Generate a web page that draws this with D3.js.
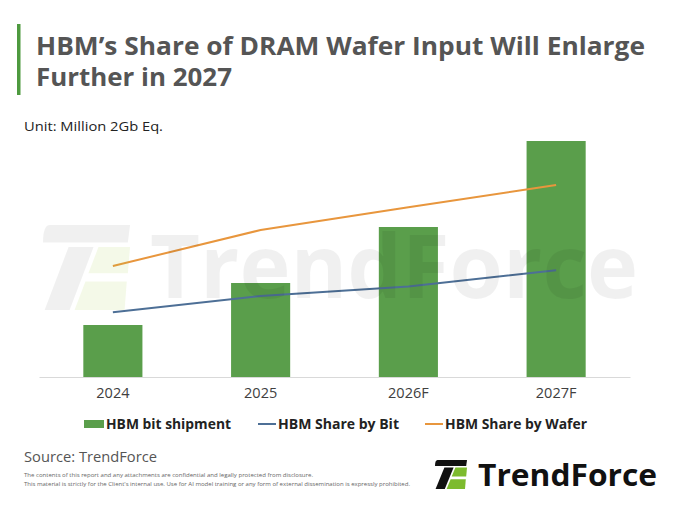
<!DOCTYPE html>
<html>
<head>
<meta charset="utf-8">
<script src="https://cdn.jsdelivr.net/npm/d3@7"></script>
<style>
  body { margin: 0; background: #fff; }
  text { font-family: "Open Sans", "DejaVu Sans", sans-serif; }
</style>
</head>
<body>
<div id="chart"></div>
<script>
// chart data
var years = ["2024", "2025", "2026F", "2027F"];
var bitShipment = [5.2, 9.4, 15.0, 23.6];       // Million 2Gb Eq.
var shareByBit = [10.8, 13.5, 15.1, 17.8];      // %
var shareByWafer = [18.5, 24.5, 28.3, 32.0];    // %
var legendLabels = ["HBM bit shipment", "HBM Share by Bit", "HBM Share by Wafer"];

var svgWidth = 680;
var svgHeight = 510;

var colors = {
  bar: "#5a9e4b",
  bit: "#4d6f96",
  wafer: "#e8963d"
};

var svg = d3.select("#chart")
  .append("svg")
  .attr("width", svgWidth)
  .attr("height", svgHeight);

// title block
svg.append("rect")
  .attr("x", 17).attr("y", 24)
  .attr("width", 3.5).attr("height", 71)
  .attr("fill", "#4e9a3f");

svg.append("text")
  .attr("x", 36).attr("y", 55)
  .attr("font-size", 25).attr("font-weight", 700)
  .attr("fill", "#555")
  .attr("textLength", 609).attr("lengthAdjust", "spacingAndGlyphs")
  .text("HBM’s Share of DRAM Wafer Input Will Enlarge");

svg.append("text")
  .attr("x", 36).attr("y", 86)
  .attr("font-size", 25).attr("font-weight", 700)
  .attr("fill", "#555")
  .attr("textLength", 196).attr("lengthAdjust", "spacingAndGlyphs")
  .text("Further in 2027");

svg.append("text")
  .attr("x", 24).attr("y", 131)
  .attr("font-size", 13)
  .attr("fill", "#222")
  .attr("textLength", 139).attr("lengthAdjust", "spacingAndGlyphs")
  .text("Unit: Million 2Gb Eq.");

// scales
var plotLeft = 39, plotRight = 630, baseY = 377, topY = 137;

var xScale = d3.scaleBand()
  .domain(years)
  .range([plotLeft, plotRight])
  .paddingInner(0.6)
  .paddingOuter(0.3);

var yBar = d3.scaleLinear().domain([0, 24]).range([baseY, topY]);
var yShare = d3.scaleLinear().domain([0, 40]).range([baseY, topY]);

// bars
var chartGroup = svg.append("g");

chartGroup.selectAll("rect.bar")
  .data(bitShipment)
  .enter()
  .append("rect")
  .attr("class", "bar")
  .attr("x", (d, i) => xScale(years[i]))
  .attr("y", d => yBar(d))
  .attr("width", xScale.bandwidth())
  .attr("height", d => baseY - yBar(d))
  .attr("fill", colors.bar);

// baseline axis
var bottomAxis = d3.axisBottom(xScale).tickSize(0).tickPadding(11);
var axisG = chartGroup.append("g")
  .attr("transform", `translate(0, ${baseY})`)
  .call(bottomAxis);
axisG.select(".domain").attr("stroke", "#d9d9d9").attr("stroke-width", 1);
axisG.selectAll("text")
  .attr("font-size", 14.5)
  .attr("fill", "#404040")
  .style("font-family", "'Open Sans', sans-serif");

// lines
var lineFor = function(vals) {
  return d3.line()
    .x((d, i) => xScale(years[i]) + xScale.bandwidth() / 2)
    .y(d => yShare(d))(vals);
};

chartGroup.append("path")
  .attr("d", lineFor(shareByBit))
  .attr("fill", "none")
  .attr("stroke", colors.bit)
  .attr("stroke-width", 2);

chartGroup.append("path")
  .attr("d", lineFor(shareByWafer))
  .attr("fill", "none")
  .attr("stroke", colors.wafer)
  .attr("stroke-width", 2);

// logo icon helper (unit box 32 x 29)
function drawIcon(g, darkFill, greenFill, darkOp, greenOp) {
  g.append("path")
    .attr("d", "M2.5,0 L32,0 L31.2,6 L0,6 Q0,0 2.5,0 Z")
    .attr("fill", darkFill).attr("fill-opacity", darkOp);
  g.append("path")
    .attr("d", "M9.4,7.5 L18.6,7.5 L9.8,29 L0.6,29 Z")
    .attr("fill", darkFill).attr("fill-opacity", darkOp);
  g.append("path")
    .attr("d", "M20.4,7.5 L32,7.5 L31.2,16.5 L16.7,16.5 Z")
    .attr("fill", greenFill).attr("fill-opacity", greenOp);
  g.append("path")
    .attr("d", "M15.6,19.3 L30.8,19.3 L30,29 L11.6,29 Z")
    .attr("fill", greenFill).attr("fill-opacity", greenOp);
}

// watermark (on top, very faint)
var wm = svg.append("g").attr("pointer-events", "none");
drawIcon(wm.append("g").attr("transform", "translate(43,225) scale(2.72,2.93)"),
  "#000", "#a8cf45", 0.06, 0.12);
wm.append("text")
  .attr("x", 150).attr("y", 298)
  .attr("font-size", 87).attr("font-weight", 700)
  .attr("fill", "#000").attr("fill-opacity", 0.06)
  .attr("textLength", 488).attr("lengthAdjust", "spacingAndGlyphs")
  .text("TrendForce");

// legend
var legend = svg.append("g");
legend.append("rect")
  .attr("x", 84).attr("y", 420)
  .attr("width", 20).attr("height", 8)
  .attr("fill", colors.bar);
legend.append("line")
  .attr("x1", 258).attr("x2", 276).attr("y1", 424).attr("y2", 424)
  .attr("stroke", colors.bit).attr("stroke-width", 2);
legend.append("line")
  .attr("x1", 425).attr("x2", 443).attr("y1", 424).attr("y2", 424)
  .attr("stroke", colors.wafer).attr("stroke-width", 2);

var legendX = [106, 278, 445];
var legendW = [125, 121, 142];
legend.selectAll("text")
  .data(legendLabels)
  .enter()
  .append("text")
  .attr("x", (d, i) => legendX[i])
  .attr("y", 429)
  .attr("font-size", 13.5)
  .attr("font-weight", 700)
  .attr("fill", "#222")
  .attr("textLength", (d, i) => legendW[i])
  .attr("lengthAdjust", "spacingAndGlyphs")
  .text(d => d);

// source + disclaimer
svg.append("text")
  .attr("x", 24).attr("y", 462)
  .attr("font-size", 14)
  .attr("fill", "#555")
  .attr("textLength", 133).attr("lengthAdjust", "spacingAndGlyphs")
  .text("Source: TrendForce");

svg.append("text")
  .attr("x", 24).attr("y", 477)
  .attr("font-size", 5.5)
  .attr("fill", "#666")
  .attr("textLength", 289).attr("lengthAdjust", "spacingAndGlyphs")
  .text("The contents of this report and any attachments are confidential and legally protected from disclosure.");

svg.append("text")
  .attr("x", 24).attr("y", 485.5)
  .attr("font-size", 5.5)
  .attr("fill", "#666")
  .attr("textLength", 386).attr("lengthAdjust", "spacingAndGlyphs")
  .text("This material is strictly for the Client's internal use. Use for AI model training or any form of external dissemination is expressly prohibited.");

// footer logo
var logo = svg.append("g");
drawIcon(logo.append("g").attr("transform", "translate(435,460)"),
  "#111", "#7dbb2e", 1, 1);
logo.append("text")
  .attr("x", 478).attr("y", 486)
  .attr("font-size", 31).attr("font-weight", 700)
  .attr("fill", "#111")
  .attr("textLength", 179).attr("lengthAdjust", "spacingAndGlyphs")
  .text("TrendForce");
</script>
</body>
</html>
